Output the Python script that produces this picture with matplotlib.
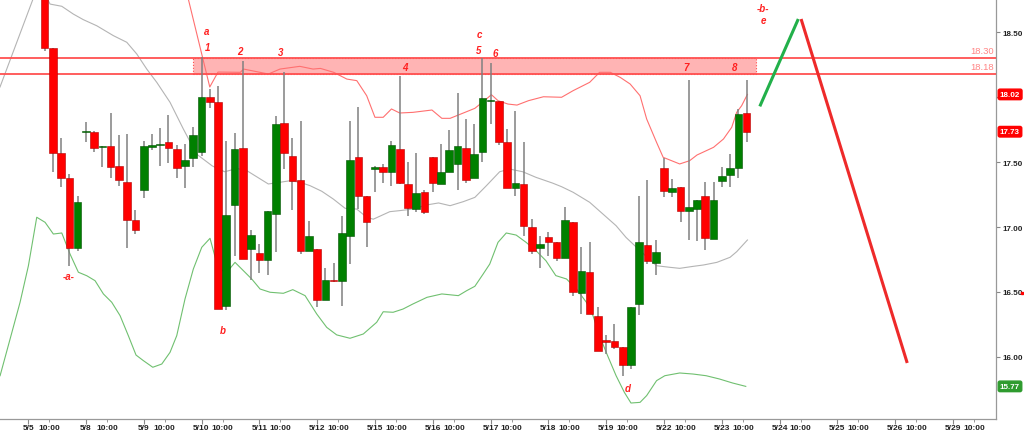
import numpy as np
import matplotlib
matplotlib.use('Agg')
import matplotlib.pyplot as plt
from matplotlib.patches import Rectangle

plt.rcParams['font.family'] = ['Liberation Sans', 'DejaVu Sans']

# sessions on the time axis, 7 hourly bars each (index 0 = first bar of 5/4)
days = ['5/4', '5/5', '5/8', '5/9', '5/10', '5/11', '5/12', '5/15', '5/16',
        '5/17', '5/18', '5/19', '5/22', '5/23', '5/24', '5/25', '5/26', '5/29']

# candles, bar index 9 .. 94
opens = [18.90, 18.377, 17.569, 17.377, 16.841,
         17.73, 17.733, 17.612, 17.621, 17.467, 17.344, 17.054,
         17.287, 17.617, 17.630, 17.651, 17.600, 17.472, 17.531,
         17.579, 17.998, 17.962, 16.390, 17.172, 17.610, 16.831,
         16.800, 16.748, 17.100, 17.800, 17.549, 17.362, 16.818,
         16.831, 16.441, 16.592, 16.582, 16.928, 17.541, 17.241,
         17.447, 17.462, 17.421, 17.600, 17.331, 17.138, 17.267,
         17.541, 17.331, 17.421, 17.487, 17.608, 17.377, 17.579,
         17.968, 17.972, 17.656, 17.297, 17.333, 17.003, 16.838,
         16.921, 16.882, 16.759, 17.041, 16.492, 16.651, 16.313,
         16.133, 16.126, 16.074, 15.941, 16.408, 16.862, 16.723,
         17.451, 17.272, 17.310, 17.126, 17.138, 17.236, 16.908,
         17.351, 17.403, 17.451, 17.877]
highs = [18.95, 18.377, 17.682, 17.408, 17.241,
         17.81, 17.74, 17.625, 17.879, 17.71, 17.718, 17.131,
         17.664, 17.718, 17.759, 17.859, 17.633, 17.636, 17.772,
         18.305, 18.062, 18.087, 17.662, 17.721, 18.279, 16.977,
         16.869, 17.121, 17.851, 18.190, 17.685, 17.813, 17.044,
         16.831, 16.682, 16.72, 17.082, 17.813, 17.921, 17.241,
         17.472, 17.485, 17.659, 18.159, 17.503, 17.569, 17.285,
         17.541, 17.638, 17.749, 18.031, 17.831, 17.792, 18.297,
         18.259, 17.972, 17.754, 17.890, 17.651, 17.062, 16.933,
         16.959, 16.882, 17.151, 17.041, 16.844, 16.887, 16.382,
         16.169, 16.254, 16.074, 16.382, 17.241, 17.364, 16.900,
         17.528, 17.369, 17.310, 18.131, 17.208, 17.349, 17.344,
         17.459, 17.562, 17.908, 18.131]
lows = [18.356, 17.425, 17.305, 16.702, 16.813,
        17.656, 17.579, 17.459, 17.374, 17.318, 16.836, 16.946,
        17.223, 17.595, 17.472, 17.49, 17.377, 17.297, 17.464,
        17.544, 17.913, 16.369, 16.364, 16.780, 16.754, 16.595,
        16.644, 16.633, 16.810, 17.446, 17.131, 16.792, 16.818,
        16.382, 16.441, 16.58, 16.390, 16.715, 17.138, 16.844,
        17.267, 17.338, 17.318, 17.330, 17.087, 17.118, 17.100,
        17.267, 17.331, 17.421, 17.287, 17.338, 17.377, 17.503,
        17.792, 17.631, 17.297, 17.241, 16.933, 16.792, 16.682,
        16.779, 16.736, 16.759, 16.472, 16.331, 16.331, 16.049,
        16.023, 16.062, 15.856, 15.908, 16.323, 16.715, 16.633,
        17.228, 17.228, 17.036, 16.900, 16.890, 16.826, 16.908,
        17.305, 17.305, 17.374, 17.656]
closes = [18.377, 17.569, 17.377, 16.836, 17.195,
          17.74, 17.61, 17.624, 17.459, 17.362, 17.054, 16.979,
          17.623, 17.627, 17.640, 17.608, 17.451, 17.515, 17.710,
          17.998, 17.962, 16.369, 17.092, 17.600, 16.754, 16.941,
          16.744, 17.121, 17.792, 17.569, 17.351, 16.818, 16.928,
          16.441, 16.592, 16.584, 16.951, 17.518, 17.241, 17.036,
          17.455, 17.421, 17.631, 17.338, 17.144, 17.262, 17.118,
          17.338, 17.421, 17.592, 17.621, 17.364, 17.562, 17.990,
          17.976, 17.656, 17.297, 17.338, 17.010, 16.818, 16.869,
          16.882, 16.759, 17.054, 16.502, 16.664, 16.331, 16.049,
          16.113, 16.079, 15.941, 16.382, 16.882, 16.741, 16.810,
          17.279, 17.297, 17.126, 17.151, 17.208, 16.913, 17.210,
          17.395, 17.451, 17.869, 17.733]
bar_idx = list(range(9, 9 + len(closes)))

# bollinger bands (bar index, price)
upper_x = [25.5, 26.4, 29.0, 30.0, 32.7, 33.1, 36.1, 37.5, 39.9, 41.5, 42.4, 44.0,
           45.6, 46.8, 48.0, 49.0, 50.0, 51.0, 52.0, 53.6, 55.9, 57.1, 58.1, 59.9,
           61.1, 62.5, 63.1, 63.9, 65.1, 66.2, 67.6, 69.4, 71.6, 73.0, 75.0, 76.2,
           77.5, 78.7, 79.9, 81.1, 81.9, 83.1, 83.9, 85.9, 87.1, 88.0, 90.0, 91.2,
           92.2, 92.8, 93.4, 94.1]
upper_y = [18.99, 18.754, 18.077, 18.192, 18.19, 18.215, 18.177, 18.215, 18.236, 18.215,
           18.22, 18.19, 18.138, 18.126, 18.01, 17.844, 17.844, 17.908, 17.877, 17.882,
           17.90, 17.836, 17.836, 17.882, 17.913, 17.985, 18.018, 17.972, 17.946, 17.938,
           17.972, 18.002, 17.998, 18.049, 18.113, 18.19, 18.19, 18.151, 18.10, 18.01,
           17.831, 17.651, 17.536, 17.485, 17.51, 17.554, 17.613, 17.677, 17.767, 17.882,
           17.933, 18.02]
mid_x = [3.6, 7.6, 8.6, 9.66, 11.08, 12.48, 13.69, 15.32, 17.33, 18.95, 20.16, 21.37,
         22.58, 24.19, 25.8, 27.42, 29.3, 30.8, 32.3, 33.5, 36.09, 37.5, 38.72, 39.93,
         41.14, 42.56, 43.96, 45.38, 46.79, 48.0, 48.8, 50.8, 52.0, 53.6, 55.2, 56.7,
         58.1, 59.7, 61.1, 62.5, 64.1, 65.3, 66.9, 68.5, 70.5, 71.6, 73.0, 75.0, 76.6,
         78.2, 79.4, 81.1, 83.1, 84.7, 85.9, 87.5, 88.8, 90.4, 92.0, 92.8, 94.1]
mid_y = [18.077, 18.754, 18.85, 18.715, 18.698, 18.638, 18.595, 18.548, 18.472, 18.421,
         18.331, 18.215, 18.113, 17.959, 17.754, 17.56, 17.47, 17.425, 17.45, 17.433,
         17.331, 17.344, 17.356, 17.344, 17.318, 17.275, 17.215, 17.144, 17.138, 17.075,
         17.06, 17.118, 17.126, 17.138, 17.169, 17.185, 17.164, 17.195, 17.228, 17.318,
         17.425, 17.446, 17.425, 17.382, 17.338, 17.31, 17.267, 17.19, 17.10, 17.01,
         16.92, 16.818, 16.702, 16.69, 16.682, 16.697, 16.708, 16.728, 16.767, 16.81, 16.90]
lower_x = [3.61, 4.82, 6.03, 7.04, 8.05, 9.06, 10.06, 11.08, 12.08, 13.09, 14.11, 15.11,
           16.12, 17.13, 18.14, 19.14, 20.07, 20.96, 22.1, 23.19, 24.19, 25.0, 26.0,
           27.01, 28.03, 29.03, 30.04, 31.06, 32.06, 33.07, 34.08, 35.09, 36.3, 37.91,
           39.05, 40.54, 41.95, 43.16, 44.37, 45.98, 47.59, 49.21, 50.0, 51.2, 52.4,
           53.6, 55.3, 57.1, 59.1, 60.1, 61.1, 62.1, 62.9, 63.9, 64.9, 66.1, 67.3, 68.5,
           69.7, 70.9, 72.2, 73.4, 74.6, 75.4, 76.2, 77.0, 78.2, 79.2, 80.0, 81.1, 81.9,
           83.1, 84.1, 85.9, 87.5, 89.1, 90.7, 92.3, 93.9]
lower_y = [15.856, 16.138, 16.421, 16.702, 17.075, 17.036, 16.946, 16.954, 16.792, 16.652,
           16.625, 16.587, 16.485, 16.421, 16.318, 16.164, 16.015, 15.972, 15.921, 15.946,
           16.036, 16.164, 16.446, 16.677, 16.844, 16.913, 16.677, 16.652, 16.728, 16.664,
           16.60, 16.523, 16.498, 16.49, 16.518, 16.472, 16.331, 16.228, 16.170, 16.144,
           16.177, 16.267, 16.348, 16.344, 16.369, 16.408, 16.459, 16.485, 16.472, 16.51,
           16.544, 16.638, 16.715, 16.882, 16.954, 16.938, 16.882, 16.818, 16.741, 16.626,
           16.60, 16.523, 16.421, 16.318, 16.164, 16.036, 15.856, 15.728, 15.646, 15.651,
           15.703, 15.818, 15.856, 15.877, 15.869, 15.856, 15.831, 15.80, 15.774]

# resistance zone and projection
zone_top = 18.30
zone_bottom = 18.18
zone_start, zone_end = 27.0, 95.1
proj_up_x = [95.6, 100.26]
proj_up_y = [17.928, 18.60]
proj_down_x = [100.6, 113.45]
proj_down_y = [18.60, 15.954]

# wave labels (text, bar index, price)
labels = [('a', 28.67, 18.508), ('1', 28.67, 18.385), ('2', 32.67, 18.354),
          ('3', 37.63, 18.346), ('4', 52.64, 18.23), ('c', 61.6, 18.485),
          ('5', 61.6, 18.362), ('6', 63.54, 18.338), ('7', 86.66, 18.23),
          ('8', 92.59, 18.23), ('-b-', 95.98, 18.682), ('e', 95.98, 18.592),
          ('-a-', 11.96, 16.623), ('b', 30.6, 16.208), ('d', 79.64, 15.762)]

RED = '#ff0000'
GREEN = '#008000'

fig = plt.figure(figsize=(10.24, 4.35), dpi=100)
ax = fig.add_axes([0, 15 / 435, 996 / 1024, 420 / 435])

# bands
ax.plot(upper_x, upper_y, color='#ff7070', lw=0.8, zorder=2)
ax.plot(mid_x, mid_y, color='#b4b4b4', lw=0.8, zorder=2)
ax.plot(lower_x, lower_y, color='#70c070', lw=0.8, zorder=2)

# resistance zone
ax.add_patch(Rectangle((zone_start, zone_bottom), zone_end - zone_start, zone_top - zone_bottom,
                       facecolor='#ffb4b4', edgecolor='#ff5050', linestyle=':', lw=0.8, zorder=1))
for lvl in [zone_top, zone_bottom]:
    ax.axhline(lvl, color='#ff5050', lw=1.3, zorder=3)
    ax.text(123.9, lvl + 0.02, '%.2f' % lvl, color='#ff8585', fontsize=6.8,
            ha='right', va='bottom', zorder=5)

# candles
o = np.array(opens)
c = np.array(closes)
up = c >= o
colors = [GREEN if u else RED for u in up]
edges = ['#005000' if u else '#b00000' for u in up]
ax.vlines(bar_idx, lows, highs, color='#808080', lw=1.1, zorder=3)
body_lo = np.minimum(o, c)
body_h = np.maximum(np.abs(c - o), 0.012)
ax.bar(bar_idx, body_h, bottom=body_lo, width=0.92, color=colors,
       edgecolor=edges, linewidth=0.4, zorder=4)

# projection
ax.plot(proj_up_x, proj_up_y, color='#22b04a', lw=2.2, zorder=5, solid_capstyle='butt')
ax.plot(proj_down_x, proj_down_y, color='#ee2a2a', lw=2.2, zorder=5, solid_capstyle='butt')

for txt, x, y in labels:
    ax.text(x, y, txt, color='#ff2020', fontsize=7, style='italic', fontweight='bold',
            ha='center', va='center', zorder=6)

# axes
day_pos = [7 * d for d in range(len(days))]
ax.set_xticks(day_pos, days)
ax.set_xticks([p + 2.55 for p in day_pos], ['10:00'] * len(days), minor=True)
ax.tick_params(axis='x', which='major', length=3.5, color='#888888', pad=0.3,
               labelsize=6, labelcolor='#222222')
ax.tick_params(axis='x', which='minor', length=1.8, color='#888888', pad=1.9,
               labelsize=6, labelcolor='#222222')
for t in ax.get_xticklabels(which='both'):
    t.set_fontweight('bold')

yticks = [16.0, 16.5, 17.0, 17.5, 18.0, 18.5]
ax.yaxis.tick_right()
ax.set_yticks(yticks)
# the 18.00 label sits under the 18.02 flag
ax.set_yticklabels(['' if v == 18.0 else '%.2f' % v for v in yticks])
ax.tick_params(axis='y', length=3, color='#888888', pad=1.5, labelsize=5.8,
               labelcolor='#222222')
for t in ax.get_yticklabels():
    t.set_fontweight('bold')

ax.set_xlim(3.6, 124.2)
ax.set_ylim(15.523, 18.754)

for s in ['top', 'left']:
    ax.spines[s].set_visible(False)
for s in ['bottom', 'right']:
    ax.spines[s].set_color('#999999')
    ax.spines[s].set_linewidth(0.9)

# price flags on the right axis
flags = [(upper_y[-1], RED), (closes[-1], RED), (lower_y[-1], '#2e9b2e')]
for val, col in flags:
    ax.text(1.004, val, '%.2f' % val, transform=ax.get_yaxis_transform(),
            color='white', fontsize=5.8, fontweight='bold', ha='left', va='center',
            bbox=dict(boxstyle='round,pad=0.22', facecolor=col, edgecolor=col),
            clip_on=False, zorder=10)
ax.plot([127.3], [16.49], 's', ms=1.8, color=RED, clip_on=False)

fig.savefig('out.png', dpi=100)
